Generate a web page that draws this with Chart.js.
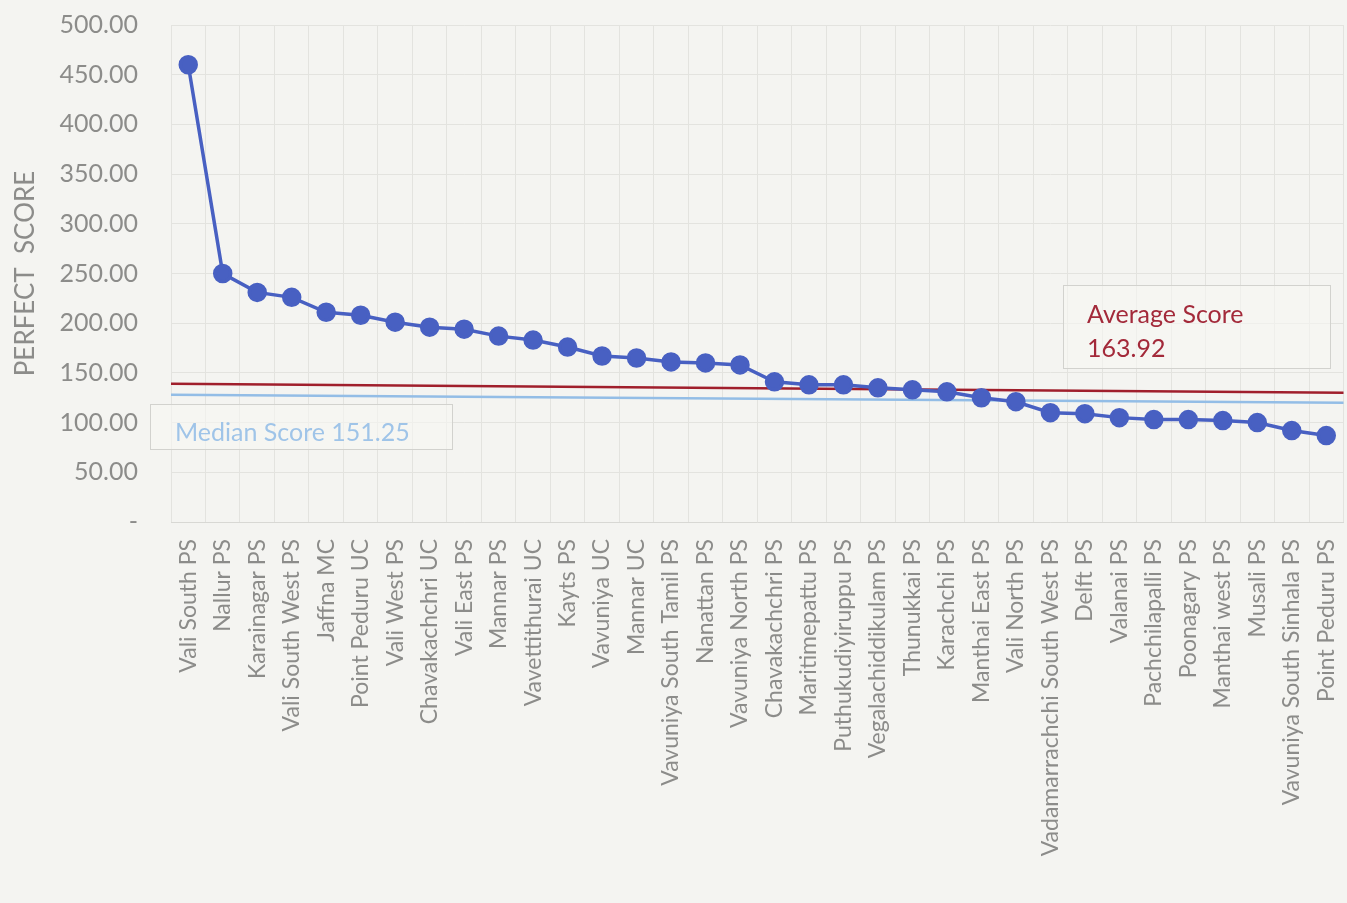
<!DOCTYPE html>
<html>
<head>
<meta charset="utf-8">
<script src="https://cdn.jsdelivr.net/npm/chart.js@4.4.0/dist/chart.umd.min.js"></script>
<style>
  html, body { margin: 0; padding: 0; background: #f4f4f1; overflow: hidden; }
  #wrap { width: 1347px; height: 903px; overflow: hidden; }
</style>
</head>
<body>
<div id="wrap"><canvas id="scoreChart" width="1355" height="903"></canvas></div>
<script>
// Councils, sorted by score
const councils = [
  'Vali South PS', 'Nallur PS', 'Karainagar PS', 'Vali South West PS', 'Jaffna MC',
  'Point Peduru UC', 'Vali West PS', 'Chavakachchri UC', 'Vali East PS', 'Mannar PS',
  'Vavettithurai UC', 'Kayts PS', 'Vavuniya UC', 'Mannar UC', 'Vavuniya South Tamil PS',
  'Nanattan PS', 'Vavuniya North PS', 'Chavakachchri PS', 'Maritimepattu PS',
  'Puthukudiyiruppu PS', 'Vegalachiddikulam PS', 'Thunukkai PS', 'Karachchi PS',
  'Manthai East PS', 'Vali North PS', 'Vadamarrachchi South West PS', 'Delft PS',
  'Valanai PS', 'Pachchilapalli PS', 'Poonagary PS', 'Manthai west PS', 'Musali PS',
  'Vavuniya South Sinhala PS', 'Point Peduru PS'
];
const scores = [
  460, 250, 231, 226, 211, 208, 201, 196, 194, 187,
  183, 176, 167, 165, 161, 160, 158, 141, 138, 138,
  135, 133, 131, 125, 121, 110, 109, 105, 103, 103,
  102, 100, 92, 87
];

// reference lines, level at left and right edge of the plot
const averageLine = [139, 130];
const medianLine = [128, 120];
const averageText = ['Average Score', '163.92'];
const medianText = 'Median Score 151.25';

const yMin = 0;
const yMax = 500;
const yStep = 50;

const FONT = 'Lato, "Open Sans", sans-serif';
const GREY = '#8c8c8a';

// draws the two level lines and their text boxes
const refLines = {
  id: 'refLines',
  beforeDatasetsDraw(chart) {
    const { ctx, chartArea: a, scales: { y } } = chart;
    ctx.save();
    ctx.lineWidth = 2.5;
    ctx.strokeStyle = '#a01f2c';
    ctx.beginPath();
    ctx.moveTo(a.left, y.getPixelForValue(averageLine[0]));
    ctx.lineTo(a.right, y.getPixelForValue(averageLine[1]));
    ctx.stroke();
    ctx.strokeStyle = '#93bde6';
    ctx.beginPath();
    ctx.moveTo(a.left, y.getPixelForValue(medianLine[0]));
    ctx.lineTo(a.right, y.getPixelForValue(medianLine[1]));
    ctx.stroke();
    ctx.restore();
  },
  afterDatasetsDraw(chart) {
    const { ctx } = chart;
    ctx.save();
    ctx.lineWidth = 1;
    ctx.strokeStyle = '#d2d2ce';
    ctx.fillStyle = 'rgba(246,246,243,0.6)';
    ctx.fillRect(1063, 285, 267, 83);
    ctx.strokeRect(1063.5, 285.5, 267, 83);
    ctx.fillRect(150, 404, 302, 45);
    ctx.strokeRect(150.5, 404.5, 302, 45);

    ctx.font = '25px ' + FONT;
    ctx.textBaseline = 'middle';
    ctx.textAlign = 'left';
    ctx.fillStyle = '#a32a3a';
    ctx.fillText(averageText[0], 1087, 315);
    ctx.fillText(averageText[1], 1087, 349);
    ctx.fillStyle = '#9fc4e8';
    ctx.fillText(medianText, 175, 433);
    ctx.restore();
  }
};

const ctx = document.getElementById('scoreChart').getContext('2d');

const myChart = new Chart(ctx, {
  type: 'line',
  data: {
    labels: councils,
    datasets: [{
      label: 'Score',
      data: scores,
      borderColor: '#4860c2',
      backgroundColor: '#4860c2',
      borderWidth: 3.5,
      pointRadius: 8,
      pointHoverRadius: 8,
      tension: 0
    }]
  },
  options: {
    responsive: false,
    animation: false,
    layout: { padding: { top: 25, right: 0, left: 0, bottom: 0 } },
    plugins: {
      legend: { display: false },
      tooltip: { enabled: false }
    },
    scales: {
      x: {
        offset: true,
        grid: { offset: true, color: '#e3e3df', drawTicks: false },
        border: { color: '#d8d8d4' },
        ticks: {
          autoSkip: false,
          minRotation: 90,
          maxRotation: 90,
          padding: 17,
          color: GREY,
          font: { family: FONT, size: 23 }
        },
        afterFit(scale) {
          scale.height = 381;
          scale.paddingLeft = 0;
          scale.paddingRight = 0;
        }
      },
      y: {
        min: yMin,
        max: yMax,
        grid: { color: '#e3e3df', drawTicks: false },
        border: { display: false },
        ticks: {
          stepSize: yStep,
          padding: 33,
          color: GREY,
          font: { family: FONT, size: 25 },
          callback: v => v === 0 ? '-' : v.toFixed(2)
        },
        title: {
          display: true,
          text: 'PERFECT  SCORE',
          color: GREY,
          font: { family: FONT, size: 26 },
          padding: { top: 10, bottom: 0 }
        },
        afterFit(scale) {
          scale.width = 171;
          scale.paddingTop = 0;
          scale.paddingBottom = 0;
        }
      }
    }
  },
  plugins: [refLines]
});
myChart.update();
</script>
</body>
</html>
